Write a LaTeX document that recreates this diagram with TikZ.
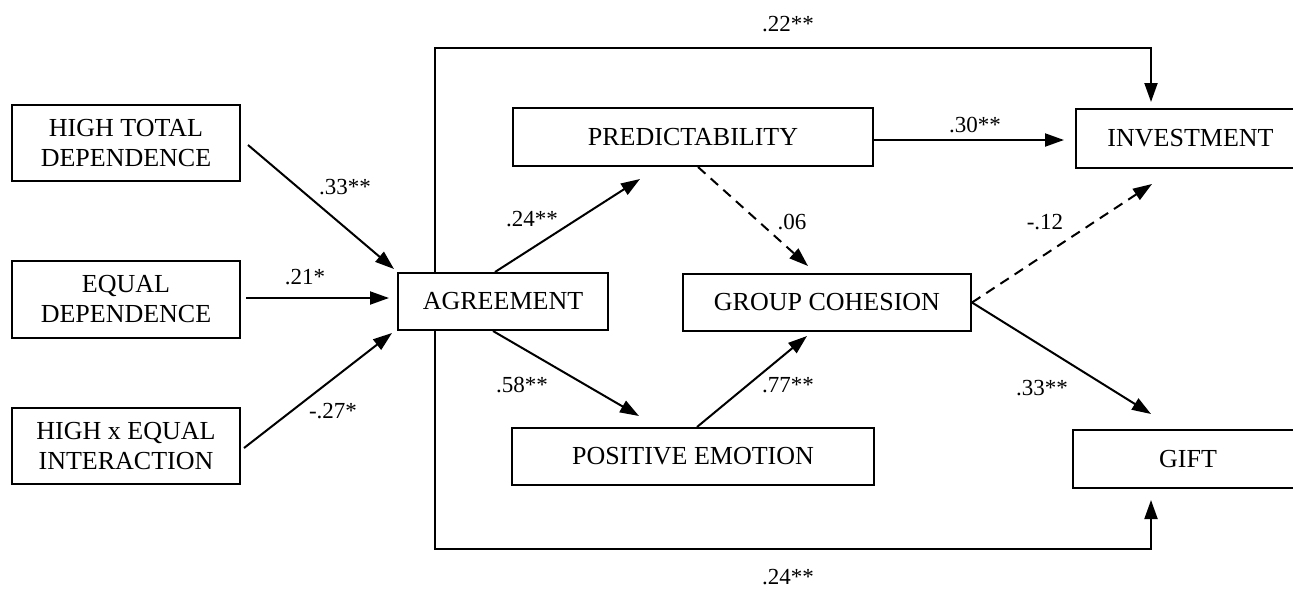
\documentclass[tikz,border=0pt]{standalone}
\usepackage{fontspec}
\setmainfont{Liberation Serif}
\usetikzlibrary{arrows.meta}
\tikzset{
  box/.style={draw, line width=2pt, align=center, inner sep=0pt, font=\fontsize{26}{30}\selectfont},
  lab/.style={inner sep=0pt, font=\fontsize{23}{26}\selectfont},
  arr/.style={line width=2pt, -{Triangle[length=19pt,width=13pt]}},
  dsh/.style={arr, dash pattern=on 10pt off 7pt},
  plain/.style={line width=2pt}
}
\begin{document}
\begin{tikzpicture}[x=1pt,y=-1pt]
\useasboundingbox (0,0) rectangle (1293,590);
\clip (0,0) rectangle (1293,590);
% boxes
\node[box, minimum width=228pt, minimum height=76pt] (htd) at (126,143) {HIGH TOTAL\\DEPENDENCE};
\node[box, minimum width=228pt, minimum height=77pt] (eqd) at (126,299.5) {EQUAL\\DEPENDENCE};
\node[box, minimum width=228pt, minimum height=76pt] (hxe) at (126,446) {HIGH x EQUAL\\INTERACTION};
\node[box, minimum width=210pt, minimum height=57pt] (agr) at (503,301.5) {AGREEMENT};
\node[box, minimum width=360pt, minimum height=58pt] (pred) at (693,137) {PREDICTABILITY};
\node[box, minimum width=288pt, minimum height=57pt] (grp) at (827,302.5) {GROUP COHESION};
\node[box, minimum width=362pt, minimum height=57pt] (pos) at (693,456.5) {POSITIVE EMOTION};
\node[box, minimum width=229pt, minimum height=59pt] (inv) at (1190.5,138.5) {INVESTMENT};
\node[box, minimum width=230pt, minimum height=58pt] (gift) at (1188,459) {GIFT};
% corners of the long paths
\coordinate (topL) at (435,48);
\coordinate (botL) at (435,549);
% connectors
\draw[arr] ([xshift=7pt,yshift=-2pt]htd.east) -- ([xshift=-3pt,yshift=3pt]agr.north west);
\draw[arr] ([xshift=5pt,yshift=1.5pt]eqd.east) -- ([xshift=-8pt,yshift=3.5pt]agr.west);
\draw[arr] ([xshift=3pt,yshift=-2pt]hxe.east) -- ([xshift=-5pt,yshift=-2pt]agr.south west);
\draw[arr] ([xshift=-8pt]agr.north) -- ([xshift=-53pt,yshift=-12pt]pred.south);
\draw[arr] ([xshift=-10pt]agr.south) -- ([xshift=-54pt,yshift=11pt]pos.north);
\draw[dsh] ([xshift=5pt]pred.south) -- ([xshift=-19pt,yshift=7pt]grp.north);
\draw[arr] ([xshift=4pt]pos.north) -- ([xshift=-20pt,yshift=-4pt]grp.south);
\draw[arr] ([yshift=-3pt]pred.east) -- ([xshift=-11pt,yshift=-1.5pt]inv.west);
\draw[dsh] (grp.east) -- ([xshift=77pt,yshift=-15pt]inv.south west);
\draw[arr] (grp.east) -- ([xshift=79pt,yshift=15pt]gift.north west);
\draw[arr] ([xshift=-68pt]agr.north) -- (topL) -| ([xshift=76pt,yshift=6pt]inv.north west);
\draw[arr] ([xshift=-68pt]agr.south) -- (botL) -| ([xshift=79pt,yshift=-11pt]gift.south west);
% labels
\node[lab] (l1) at (788,24) {.22**};
\node[lab] (l2) at (975,125) {.30**};
\node[lab] (l3) at (345,187) {.33**};
\node[lab] (l4) at (305,277) {.21*};
\node[lab] (l5) at (333,411) {-.27*};
\node[lab] (l6) at (532,219) {.24**};
\node[lab] (l7) at (792,222) {.06};
\node[lab] (l8) at (1045,222) {-.12};
\node[lab] (l9) at (522,385) {.58**};
\node[lab] (l10) at (788,385) {.77**};
\node[lab] (l11) at (1042,388) {.33**};
\node[lab] (l12) at (788,577) {.24**};
\end{tikzpicture}
\end{document}
